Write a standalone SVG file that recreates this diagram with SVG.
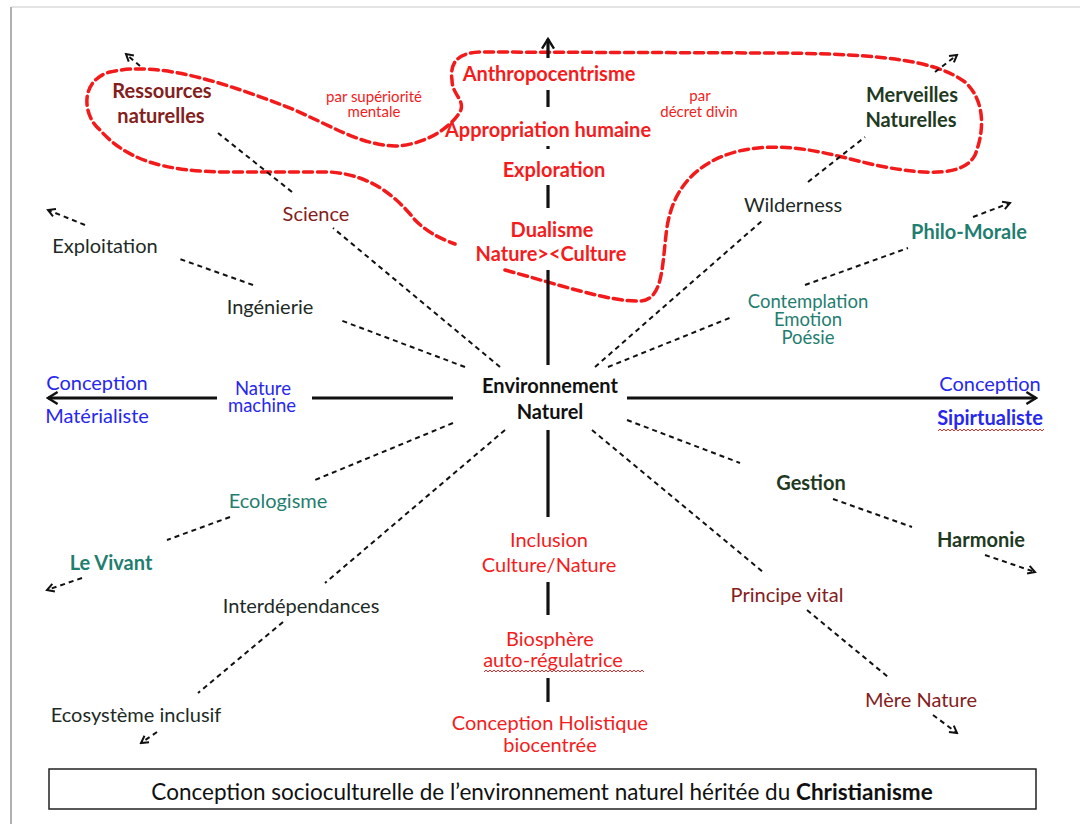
<svg xmlns="http://www.w3.org/2000/svg" width="1080" height="824" viewBox="0 0 1080 824">
  <style>
    text { font-family: Lato, "Open Sans", "Liberation Sans", sans-serif; font-size: 20px; text-anchor: middle; }
    .b { font-weight: bold; }
    .red { fill: #f41c1c; }
    .dred { fill: #84201c; }
    .dgrn { fill: #1f3a1f; }
    .dark { fill: #1d2a26; }
    .teal { fill: #1f7e70; }
    .blue { fill: #2727ee; }
    .small { font-size: 15px; }
    .tight { font-size: 18.5px; }
    .dash { fill: none; stroke: #111; stroke-width: 2; stroke-dasharray: 5 4; }
    .axis { fill: none; stroke: #111; stroke-width: 3.2; }
    .loop { fill: none; stroke: #f21a1a; stroke-width: 3.5; stroke-dasharray: 9 5; stroke-linecap: round; }
    .squig { fill: none; stroke: #e03030; stroke-width: 1; }
  </style>
  <defs>
    <marker id="head" viewBox="0 0 10 10" refX="8" refY="5" markerWidth="5" markerHeight="5" orient="auto" markerUnits="strokeWidth">
      <path d="M1,1 L8,5 L1,9" fill="none" stroke="#111" stroke-width="2"/>
    </marker>
    <marker id="axhead" viewBox="0 0 12 12" refX="10" refY="6" markerWidth="4.5" markerHeight="4.5" orient="auto" markerUnits="strokeWidth">
      <path d="M2,1 L10,6 L2,11" fill="none" stroke="#111" stroke-width="2"/>
    </marker>
  </defs>

  <!-- page frame -->
  <rect x="0" y="0" width="1080" height="824" fill="#ffffff"/>
  <line x1="11" y1="7" x2="1080" y2="7" stroke="#e4e4e4" stroke-width="2"/>
  <line x1="11" y1="7" x2="11" y2="824" stroke="#b0b0b0" stroke-width="2"/>

  <!-- red outline around the anthropocentric cluster -->
  <path class="loop" d="M505,270 C560,285 610,302 640,301 C662,300 662,270 666,235 C670,195 690,165 735,152 C790,138 840,158 880,166 C930,176 965,175 975,155 C985,130 985,100 965,82 C935,60 880,54 780,53 L480,52 C455,53 450,65 452,80 C452,95 466,100 460,112 C450,128 425,145 395,146 C360,145 330,125 290,108 C230,85 160,60 110,72 C80,80 82,115 100,130 C125,158 160,172 230,172 L330,172 C370,175 395,195 415,220 C430,235 445,240 455,244"/>

  <g id="connectors">
    <!-- main axes -->
    <line class="axis" x1="453" y1="398" x2="312" y2="398"/>
    <line class="axis" x1="217" y1="398" x2="48" y2="398" marker-end="url(#axhead)"/>
    <line class="axis" x1="627" y1="398" x2="1036" y2="398" marker-end="url(#axhead)"/>
    <line class="axis" x1="548" y1="58" x2="548" y2="39" marker-end="url(#axhead)"/>
    <line class="axis" x1="548" y1="90" x2="548" y2="107"/>
    <line class="axis" x1="548" y1="146" x2="548" y2="149"/>
    <line class="axis" x1="548" y1="185" x2="548" y2="208"/>
    <line class="axis" x1="548" y1="270" x2="548" y2="365"/>
    <line class="axis" x1="548" y1="430" x2="548" y2="517"/>
    <line class="axis" x1="548" y1="582" x2="548" y2="615"/>
    <line class="axis" x1="548" y1="678" x2="548" y2="702"/>

    <!-- upper left -->
    <line class="dash" x1="500" y1="367" x2="333" y2="228"/>
    <line class="dash" x1="292" y1="192" x2="218" y2="133"/>
    <line class="dash" x1="140" y1="66" x2="126" y2="54" marker-end="url(#head)"/>
    <line class="dash" x1="465" y1="367" x2="340" y2="320"/>
    <line class="dash" x1="253" y1="285" x2="177" y2="258"/>
    <line class="dash" x1="85" y1="225" x2="48" y2="210" marker-end="url(#head)"/>

    <!-- lower left -->
    <line class="dash" x1="453" y1="423" x2="315" y2="480"/>
    <line class="dash" x1="230" y1="517" x2="167" y2="540"/>
    <line class="dash" x1="82" y1="578" x2="47" y2="590" marker-end="url(#head)"/>
    <line class="dash" x1="505" y1="430" x2="325" y2="583"/>
    <line class="dash" x1="283" y1="622" x2="198" y2="693"/>
    <line class="dash" x1="157" y1="732" x2="141" y2="743" marker-end="url(#head)"/>

    <!-- upper right -->
    <line class="dash" x1="595" y1="367" x2="763" y2="220"/>
    <line class="dash" x1="808" y1="182" x2="865" y2="137"/>
    <line class="dash" x1="935" y1="72" x2="957" y2="55" marker-end="url(#head)"/>
    <line class="dash" x1="608" y1="367" x2="732" y2="317"/>
    <line class="dash" x1="805" y1="285" x2="908" y2="248"/>
    <line class="dash" x1="973" y1="217" x2="1010" y2="203" marker-end="url(#head)"/>

    <!-- lower right -->
    <line class="dash" x1="627" y1="420" x2="740" y2="463"/>
    <line class="dash" x1="833" y1="499" x2="912" y2="527"/>
    <line class="dash" x1="985" y1="555" x2="1035" y2="572" marker-end="url(#head)"/>
    <line class="dash" x1="592" y1="430" x2="763" y2="572"/>
    <line class="dash" x1="807" y1="610" x2="888" y2="677"/>
    <line class="dash" x1="933" y1="715" x2="957" y2="733" marker-end="url(#head)"/>
  </g>

  <g id="n-centre"><text class="b" x="550" y="393" fill="#111">Environnement</text><text class="b" x="550" y="419" fill="#111">Naturel</text></g>

  <g id="n-anthropocentrisme"><text class="b red" x="549" y="81">Anthropocentrisme</text></g>
  <g id="n-appropriation"><text class="b red" x="548" y="137">Appropriation humaine</text></g>
  <g id="n-exploration"><text class="b red" x="554" y="177">Exploration</text></g>
  <g id="n-dualisme"><text class="b red" x="552" y="237">Dualisme</text><text class="b red" x="551" y="261">Nature&gt;&lt;Culture</text></g>
  <g id="n-superiorite"><text class="red small" x="374" y="102">par supériorité</text><text class="red small" x="374" y="117">mentale</text></g>
  <g id="n-decret"><text class="red small" x="700" y="101">par</text><text class="red small" x="699" y="117">décret divin</text></g>

  <g id="n-ressources"><text class="b dred" x="162" y="98">Ressources</text><text class="b dred" x="161" y="123">naturelles</text></g>
  <g id="n-science"><text class="dred" x="316" y="221">Science</text></g>
  <g id="n-exploitation"><text class="dark" x="105" y="253">Exploitation</text></g>
  <g id="n-ingenierie"><text class="dark" x="270" y="314">Ingénierie</text></g>

  <g id="n-merveilles"><text class="b dgrn" x="912" y="102">Merveilles</text><text class="b dgrn" x="911" y="127">Naturelles</text></g>
  <g id="n-wilderness"><text class="dark" x="793" y="212">Wilderness</text></g>
  <g id="n-philo"><text class="b teal" x="969" y="239">Philo-Morale</text></g>
  <g id="n-contemplation"><text class="teal tight" x="808" y="308">Contemplation</text><text class="teal tight" x="808" y="326">Emotion</text><text class="teal tight" x="808" y="344">Poésie</text></g>

  <g id="n-materialiste"><text class="blue" x="97" y="390">Conception</text><text class="blue" x="97" y="423">Matérialiste</text></g>
  <g id="n-machine"><text class="blue tight" x="263" y="395">Nature</text><text class="blue tight" x="262" y="412">machine</text></g>
  <g id="n-spiritualiste"><text class="blue" x="990" y="391">Conception</text><text class="blue b" x="990" y="425">Sipirtualiste</text>
    <path class="squig" d="M938,431 l2,-2 l2,2 l2,-2 l2,2 l2,-2 l2,2 l2,-2 l2,2 l2,-2 l2,2 l2,-2 l2,2 l2,-2 l2,2 l2,-2 l2,2 l2,-2 l2,2 l2,-2 l2,2 l2,-2 l2,2 l2,-2 l2,2 l2,-2 l2,2 l2,-2 l2,2 l2,-2 l2,2 l2,-2 l2,2 l2,-2 l2,2 l2,-2 l2,2 l2,-2 l2,2 l2,-2 l2,2 l2,-2 l2,2 l2,-2 l2,2 l2,-2 l2,2 l2,-2 l2,2 l2,-2 l2,2 l2,-2 l2,2 l2,-2"/></g>

  <g id="n-ecologisme"><text class="teal" x="278" y="508">Ecologisme</text></g>
  <g id="n-vivant"><text class="b teal" x="111" y="570">Le Vivant</text></g>
  <g id="n-interdependances"><text class="dark" x="301" y="613">Interdépendances</text></g>
  <g id="n-ecosysteme"><text class="dark" x="136" y="722">Ecosystème inclusif</text></g>

  <g id="n-inclusion"><text class="red" x="549" y="547">Inclusion</text><text class="red" x="549" y="572">Culture/Nature</text></g>
  <g id="n-biosphere"><text class="red" x="550" y="646">Biosphère</text><text class="red" x="553" y="667">auto-régulatrice</text>
    <path class="squig" d="M484,672 l2,-2 l2,2 l2,-2 l2,2 l2,-2 l2,2 l2,-2 l2,2 l2,-2 l2,2 l2,-2 l2,2 l2,-2 l2,2 l2,-2 l2,2 l2,-2 l2,2 l2,-2 l2,2 l2,-2 l2,2 l2,-2 l2,2 l2,-2 l2,2 l2,-2 l2,2 l2,-2 l2,2 l2,-2 l2,2 l2,-2 l2,2 l2,-2 l2,2 l2,-2 l2,2 l2,-2 l2,2 l2,-2 l2,2 l2,-2 l2,2 l2,-2 l2,2 l2,-2 l2,2 l2,-2 l2,2 l2,-2 l2,2 l2,-2 l2,2 l2,-2 l2,2 l2,-2 l2,2 l2,-2 l2,2 l2,-2 l2,2 l2,-2 l2,2 l2,-2 l2,2 l2,-2 l2,2 l2,-2 l2,2 l2,-2 l2,2 l2,-2 l2,2 l2,-2 l2,2 l2,-2 l2,2 l2,-2 l2,2"/></g>
  <g id="n-holistique"><text class="red" x="550" y="730">Conception Holistique</text><text class="red" x="550" y="752">biocentrée</text></g>

  <g id="n-gestion"><text class="b dgrn" x="811" y="490">Gestion</text></g>
  <g id="n-harmonie"><text class="b dgrn" x="981" y="547">Harmonie</text></g>
  <g id="n-principe"><text class="dred" x="787" y="602">Principe vital</text></g>
  <g id="n-mere"><text class="dred" x="921" y="707">Mère Nature</text></g>

  <g id="caption">
    <rect x="49" y="769" width="987" height="40" fill="#fff" stroke="#222" stroke-width="1.5"/>
    <text x="542" y="800" style="font-size:22.5px" fill="#111">Conception socioculturelle de l’environnement naturel héritée du <tspan class="b">Christianisme</tspan></text>
  </g>
</svg>
